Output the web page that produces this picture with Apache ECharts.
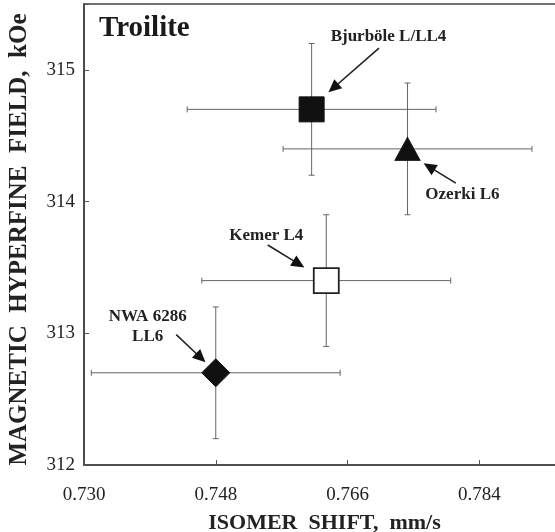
<!DOCTYPE html>
<html>
<head>
<meta charset="utf-8">
<script src="https://cdn.jsdelivr.net/npm/echarts@6/dist/echarts.min.js"></script>
<style>
  html, body { margin: 0; padding: 0; background: #fff; }
  #chart { width: 555px; height: 532px; }
</style>
</head>
<body>
<div id="chart"></div>
<script>
// Troilite: isomer shift vs. magnetic hyperfine field, with error bars
const sampleNames = ['Bjurböle L/LL4', 'Ozerki L6', 'Kemer L4', 'NWA 6286 LL6'];
const isomerShift = [0.7611, 0.7742, 0.7631, 0.7480];      // mm/s
const hyperfineField = [314.7, 314.4, 313.4, 312.7];       // kOe
const shiftError = [0.017, 0.017, 0.017, 0.017];
const fieldError = [0.5, 0.5, 0.5, 0.5];

// axis ranges and ticks
const xMin = 0.730, xMax = 0.802, xStep = 0.018;
const yMin = 312, yMax = 315.5, yStep = 1;

// callout labels (data coordinates) and their arrows
const calloutText = ['Bjurböle L/LL4', 'Ozerki L6', 'Kemer L4', 'NWA 6286\nLL6'];
const calloutX = [0.7716, 0.7817, 0.7549, 0.7387];
const calloutY = [315.25, 314.05, 313.74, 313.05];
const arrowFromX = [0.7703, 0.7808, 0.7551, 0.7426];
const arrowFromY = [315.165, 314.14, 313.67, 312.99];
const arrowToX = [0.7634, 0.7764, 0.7601, 0.7466];
const arrowToY = [314.83, 314.29, 313.50, 312.78];

const SERIF = '"Liberation Serif", "Times New Roman", serif';

// marker style per sample
const markerStyles = [
  { symbol: 'rect', symbolSize: 25, itemStyle: { color: '#111', borderColor: '#111', borderWidth: 1, opacity: 1 } },
  { symbol: 'triangle', symbolSize: [25, 23], itemStyle: { color: '#111', borderColor: '#111', borderWidth: 1, opacity: 1 } },
  { symbol: 'rect', symbolSize: 25, itemStyle: { color: '#fff', borderColor: '#222', borderWidth: 1.8, opacity: 1 } },
  { symbol: 'diamond', symbolSize: [28, 28], itemStyle: { color: '#111', borderColor: '#111', borderWidth: 1, opacity: 1 } }
];

const errorData = sampleNames.map((n, i) => [isomerShift[i], hyperfineField[i], shiftError[i], fieldError[i]]);
const markerData = sampleNames.map((n, i) => Object.assign({ name: n, value: [isomerShift[i], hyperfineField[i]] }, markerStyles[i]));
const arrowData = calloutText.map((t, i) => [arrowFromX[i], arrowFromY[i], arrowToX[i], arrowToY[i]]);
const calloutData = calloutText.map((t, i) => [calloutX[i], calloutY[i], i]);

function renderErrorBars(params, api) {
  const x = api.value(0), y = api.value(1), dx = api.value(2), dy = api.value(3);
  const left = api.coord([x - dx, y]), right = api.coord([x + dx, y]);
  const top = api.coord([x, y + dy]), bottom = api.coord([x, y - dy]);
  const cap = 3;
  const style = { stroke: '#666', lineWidth: 1 };
  const seg = (x1, y1, x2, y2) => ({ type: 'line', shape: { x1, y1, x2, y2 }, style });
  return {
    type: 'group',
    children: [
      seg(left[0], left[1], right[0], right[1]),
      seg(left[0], left[1] - cap, left[0], left[1] + cap),
      seg(right[0], right[1] - cap, right[0], right[1] + cap),
      seg(top[0], top[1], bottom[0], bottom[1]),
      seg(top[0] - cap, top[1], top[0] + cap, top[1]),
      seg(bottom[0] - cap, bottom[1], bottom[0] + cap, bottom[1])
    ]
  };
}

function renderArrow(params, api) {
  const a = api.coord([api.value(0), api.value(1)]);
  const b = api.coord([api.value(2), api.value(3)]);
  const dx = b[0] - a[0], dy = b[1] - a[1];
  const len = Math.sqrt(dx * dx + dy * dy);
  const ux = dx / len, uy = dy / len;
  const headLen = 13, headHalf = 6;
  const baseX = b[0] - ux * headLen, baseY = b[1] - uy * headLen;
  return {
    type: 'group',
    children: [
      { type: 'line', shape: { x1: a[0], y1: a[1], x2: baseX + ux * 2, y2: baseY + uy * 2 },
        style: { stroke: '#222', lineWidth: 1.6 } },
      { type: 'polygon',
        shape: { points: [
          [b[0], b[1]],
          [baseX - uy * headHalf, baseY + ux * headHalf],
          [baseX + uy * headHalf, baseY - ux * headHalf]
        ] },
        style: { fill: '#111' } }
    ]
  };
}

function renderCallout(params, api) {
  const p = api.coord([api.value(0), api.value(1)]);
  return {
    type: 'text',
    x: p[0], y: p[1],
    style: {
      text: calloutText[api.value(2)],
      fill: '#222',
      font: 'bold 17px ' + SERIF,
      align: 'center',
      verticalAlign: 'middle',
      lineHeight: 20
    }
  };
}

const chart = echarts.init(document.getElementById('chart'), null, { renderer: 'canvas' });
chart.setOption({
  animation: false,
  backgroundColor: '#fff',
  title: {
    text: 'Troilite',
    left: 94, top: 9,
    textStyle: { fontFamily: SERIF, fontWeight: 'bold', fontSize: 29, color: '#1a1a1a' }
  },
  grid: {
    left: 84, top: 4, width: 527, height: 461,
    outerBoundsMode: 'none', containLabel: false,
    show: true, borderColor: '#444', borderWidth: 1.6, backgroundColor: 'transparent'
  },
  xAxis: {
    type: 'value', min: xMin, max: xMax, interval: xStep,
    name: 'ISOMER  SHIFT,  mm/s', nameLocation: 'middle', nameGap: 47,
    nameTextStyle: { fontFamily: SERIF, fontWeight: 'bold', fontSize: 22, color: '#222', padding: [0, 46, 0, 0] },
    axisLine: { show: true, lineStyle: { color: '#444', width: 1.6 } },
    axisTick: { show: true, inside: true, length: 5, lineStyle: { color: '#555' } },
    splitLine: { show: false },
    axisLabel: {
      margin: 21, fontFamily: SERIF, fontSize: 19, color: '#222',
      formatter: v => v.toFixed(3)
    }
  },
  yAxis: {
    type: 'value', min: yMin, max: yMax, interval: yStep,
    name: 'MAGNETIC  HYPERFINE  FIELD,  kOe', nameLocation: 'middle', nameGap: 52,
    nameTextStyle: { fontFamily: SERIF, fontWeight: 'bold', fontSize: 25, color: '#222', padding: [0, 10, 0, 0] },
    axisLine: { show: true, lineStyle: { color: '#444', width: 1.6 } },
    axisTick: { show: true, inside: true, length: 5, lineStyle: { color: '#555' } },
    splitLine: { show: false },
    axisLabel: {
      margin: 9, fontFamily: SERIF, fontSize: 19, color: '#222',
      formatter: v => (Number.isInteger(v) ? String(v) : '')
    }
  },
  series: [
    {
      type: 'custom', name: 'error', renderItem: renderErrorBars,
      data: errorData, encode: { x: 0, y: 1 }, z: 2, silent: true
    },
    {
      type: 'scatter', name: 'samples', data: markerData, z: 3, silent: true
    },
    {
      type: 'custom', name: 'arrows', renderItem: renderArrow,
      data: arrowData, encode: { x: [0, 2], y: [1, 3] }, z: 4, silent: true
    },
    {
      type: 'custom', name: 'callouts', renderItem: renderCallout,
      data: calloutData, encode: { x: 0, y: 1 }, z: 5, silent: true
    }
  ]
});
</script>
</body>
</html>
